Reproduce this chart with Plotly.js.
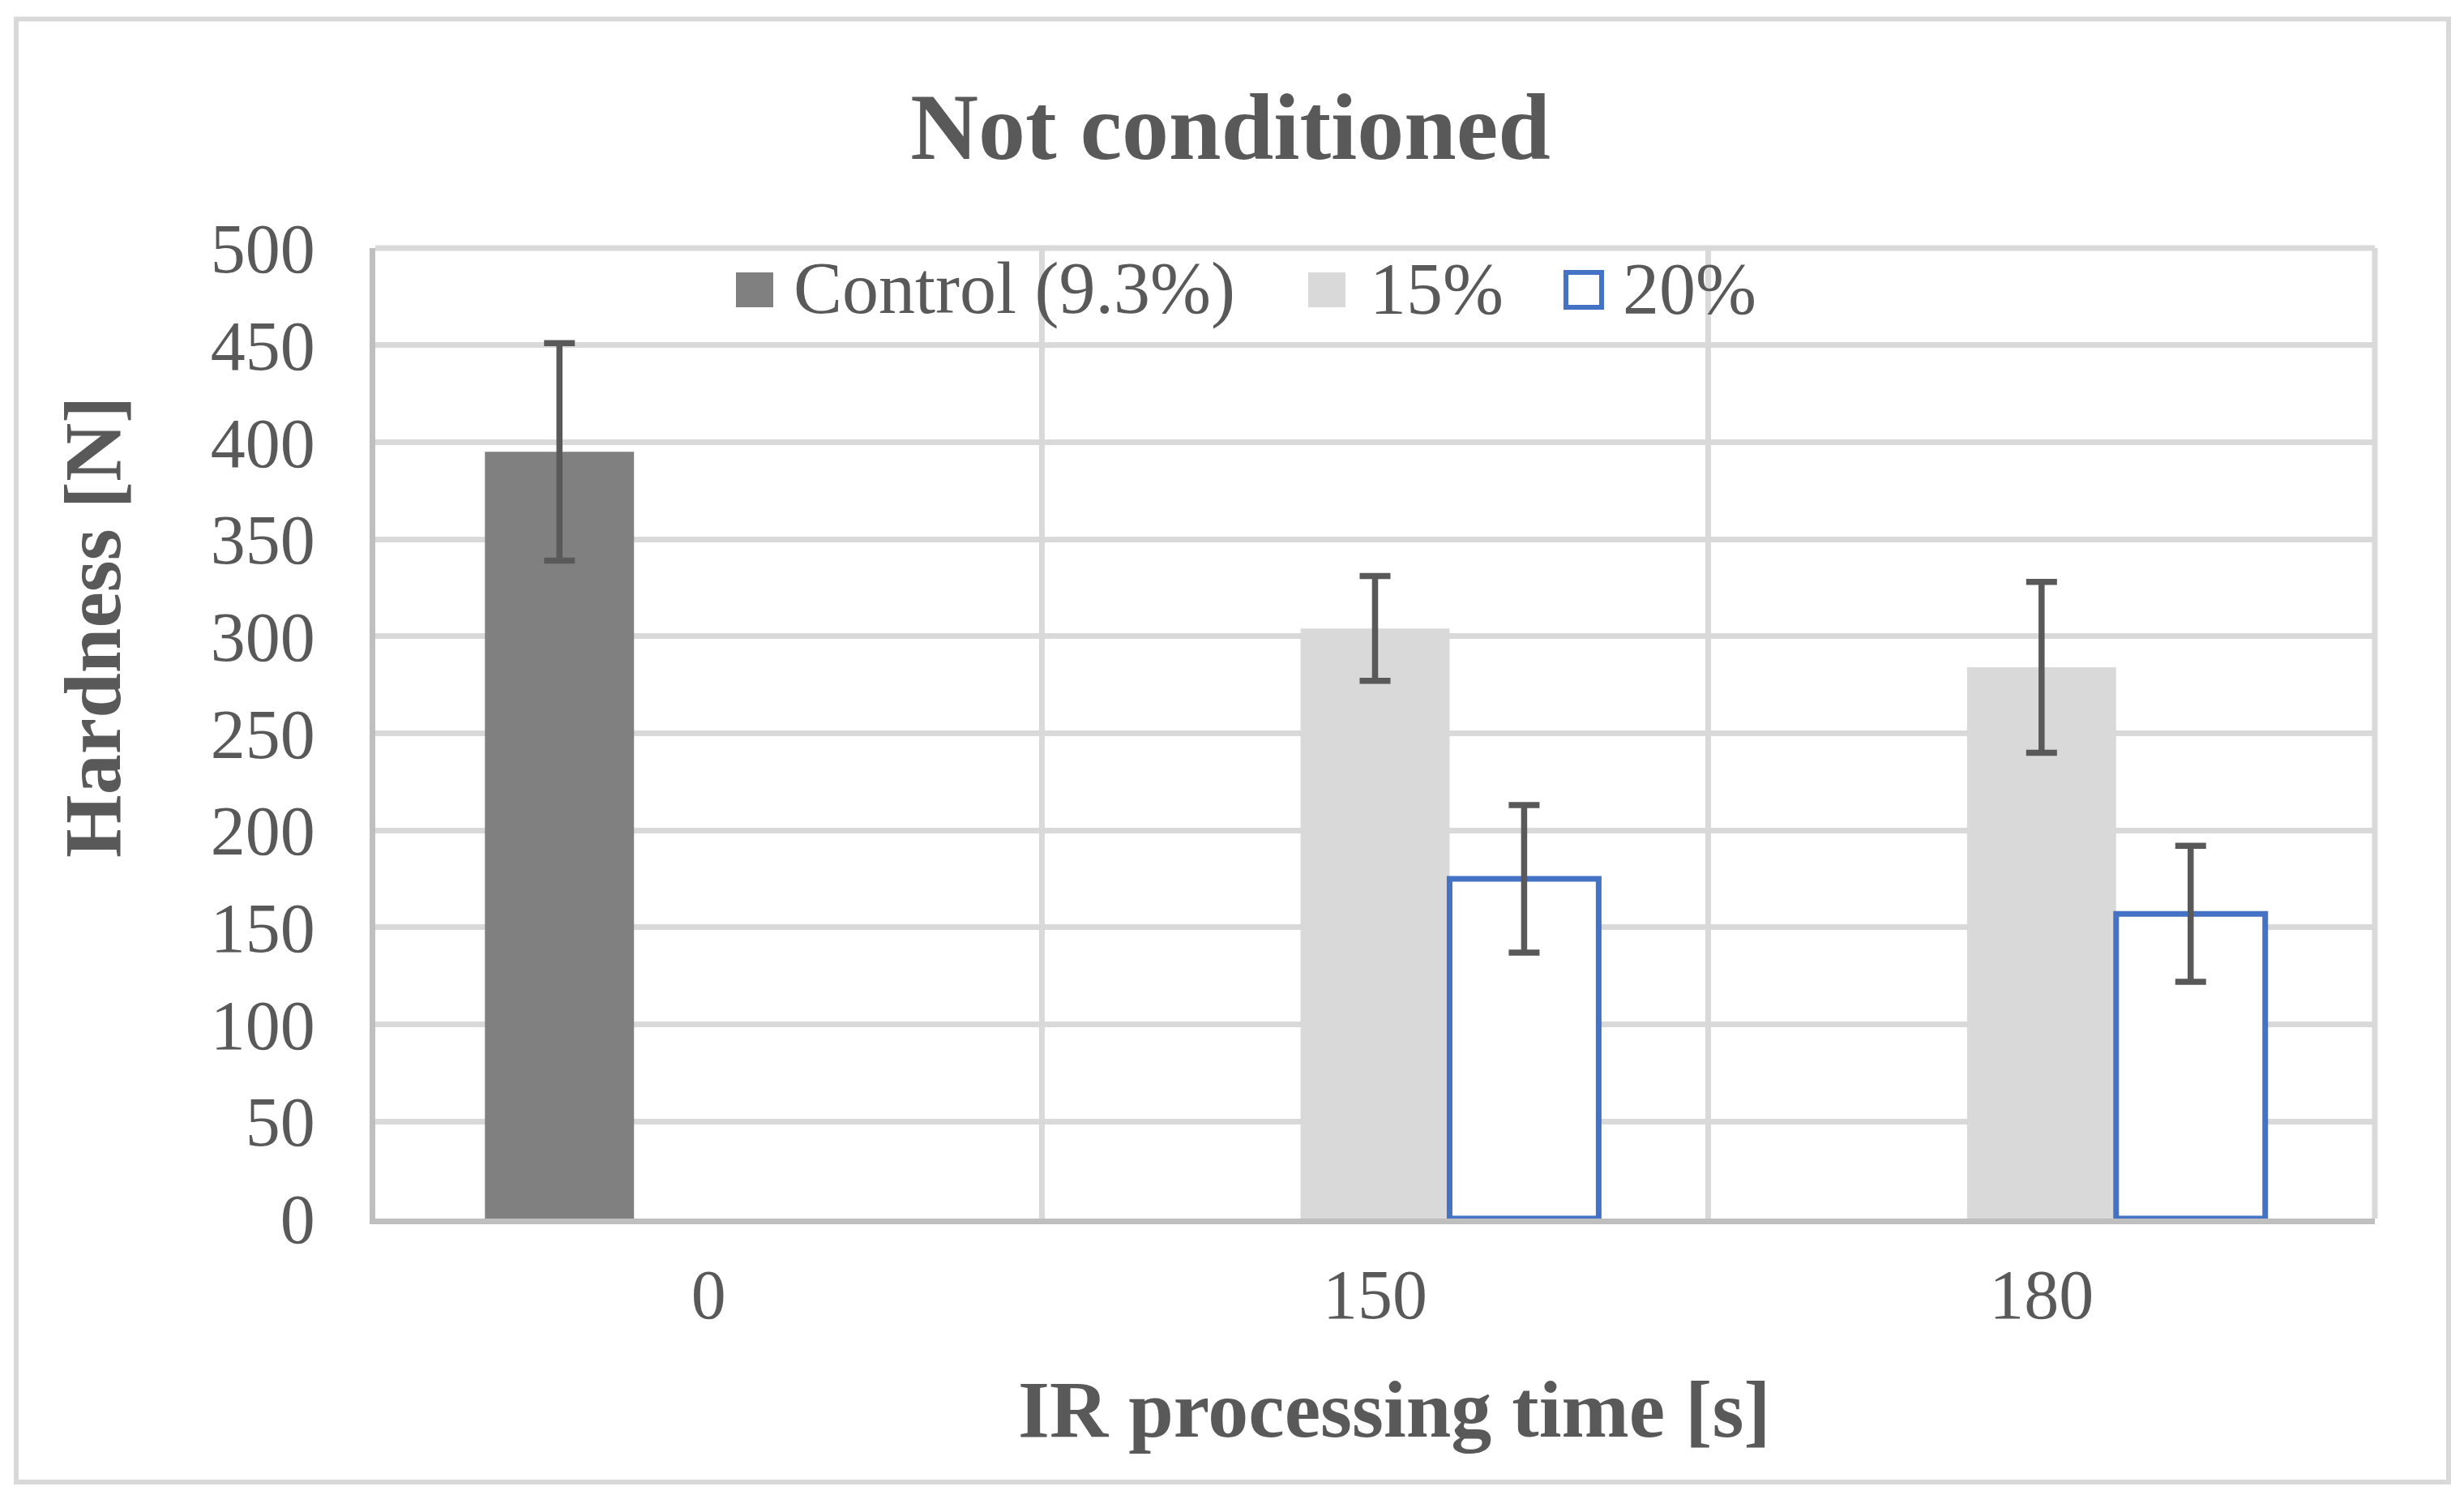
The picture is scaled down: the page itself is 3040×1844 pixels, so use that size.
<!DOCTYPE html>
<html>
<head>
<meta charset="utf-8">
<script src="https://cdn.plot.ly/plotly-3.0.1.min.js"></script>
<style>
  html, body { margin: 0; padding: 0; background: #ffffff; }
  #chart { width: 3040px; height: 1844px; }
</style>
</head>
<body>
<div id="chart"></div>
<script>
// ---- data ----
const categories = ['0', '150', '180'];
const seriesNames = ['Control (9.3%)', '15%', '20%'];
const controlValues = [395, null, null];
const controlErrors = [56, null, null];
const pct15Values = [null, 304, 284];
const pct15Errors = [null, 27, 44];
const pct20Values = [null, 175, 157];
const pct20Errors = [null, 38, 35];
const yTickValues = [0, 50, 100, 150, 200, 250, 300, 350, 400, 450, 500];
const chartTitle = 'Not conditioned';
const xTitle = 'IR processing time [s]';
const yTitle = 'Hardness [N]';

// ---- styling ----
const FONT = 'Liberation Serif, "Times New Roman", serif';
const TXT = '#595959';
const GRID = '#d9d9d9';
const W = 3040, H = 1844;
const M = { l: 463, r: 110, t: 306, b: 341 };
const PW = W - M.l - M.r, PH = H - M.t - M.b;
const xp = px => (px - M.l) / PW;
const yp = py => (H - M.b - py) / PH;

const seriesStyles = [
  { color: '#808080', line: { width: 0 } },
  { color: '#d9d9d9', line: { width: 0 } },
  { color: '#ffffff', line: { color: '#4472c4', width: 7 } }
];
const seriesValues = [controlValues, pct15Values, pct20Values];
const seriesErrors = [controlErrors, pct15Errors, pct20Errors];

const traces = seriesNames.map((name, i) => ({
  type: 'bar',
  name: name,
  x: categories,
  y: seriesValues[i],
  marker: seriesStyles[i],
  error_y: {
    type: 'data',
    array: seriesErrors[i],
    visible: true,
    color: '#595959',
    thickness: 7.5,
    width: 19
  },
  showlegend: false,
  hoverinfo: 'skip'
}));

// custom legend (large square swatches like the reference)
const legendSwatchX = [[908, 954], [1614, 1660], [1932, 1976]];
const legendTextX = [977, 1688, 2000];
const legendY = [336, 379];

const shapes = [
  // outer chart border
  {
    type: 'rect', xref: 'paper', yref: 'paper',
    x0: xp(20), x1: xp(3021), y0: yp(1828), y1: yp(23.5),
    line: { color: GRID, width: 6 }, fillcolor: 'rgba(0,0,0,0)', layer: 'below'
  },
  // gridlines on the plot-area edges (top at 500, right category boundary)
  {
    type: 'line', xref: 'paper', yref: 'paper',
    x0: 0, x1: 1, y0: 1, y1: 1,
    line: { color: GRID, width: 7 }, layer: 'between'
  },
  {
    type: 'line', xref: 'paper', yref: 'paper',
    x0: 1, x1: 1, y0: 0, y1: 1,
    line: { color: GRID, width: 7 }, layer: 'between'
  }
];
const annotations = [];
seriesNames.forEach((name, i) => {
  const st = seriesStyles[i];
  shapes.push({
    type: 'rect', xref: 'paper', yref: 'paper',
    x0: xp(legendSwatchX[i][0]), x1: xp(legendSwatchX[i][1]),
    y0: yp(legendY[1]), y1: yp(legendY[0]),
    fillcolor: st.color,
    line: st.line.width ? { color: st.line.color, width: 6 } : { width: 0 }
  });
  annotations.push({
    xref: 'paper', yref: 'paper',
    x: xp(legendTextX[i]), y: yp(356),
    xanchor: 'left', yanchor: 'middle',
    text: name, showarrow: false,
    font: { family: FONT, size: 90, color: TXT }
  });
});

annotations.push({
  xref: 'paper', yref: 'paper',
  x: xp(1720), y: yp(1738),
  xanchor: 'center', yanchor: 'middle',
  text: '<b>' + xTitle + '</b>', showarrow: false,
  font: { family: FONT, size: 100, color: TXT }
});
annotations.push({
  xref: 'paper', yref: 'paper',
  x: xp(114), y: yp(774),
  xanchor: 'center', yanchor: 'middle', textangle: -90,
  text: '<b>' + yTitle + '</b>', showarrow: false,
  font: { family: FONT, size: 100, color: TXT }
});

const layout = {
  width: W, height: H,
  margin: M,
  paper_bgcolor: '#ffffff',
  plot_bgcolor: '#ffffff',
  font: { family: FONT, color: TXT },
  title: {
    text: '<b>' + chartTitle + '</b>',
    font: { family: FONT, size: 116, color: TXT },
    xref: 'container', yref: 'container',
    x: 1518 / W, xanchor: 'center',
    y: 1 - 155 / H, yanchor: 'middle'
  },
  barmode: 'group',
  bargap: 0.329,
  bargroupgap: 0,
  showlegend: false,
  xaxis: {
    type: 'category',
    categoryorder: 'array',
    categoryarray: categories,
    tickson: 'boundaries',
    showgrid: true,
    gridcolor: GRID,
    gridwidth: 7,
    showline: true,
    linecolor: '#bfbfbf',
    linewidth: 7,
    ticks: '',
    ticklabelstandoff: 13,
    tickfont: { family: FONT, size: 86, color: TXT },
    zeroline: false,
    fixedrange: true
  },
  yaxis: {
    range: [0, 500],
    tickvals: yTickValues,
    ticktext: yTickValues.map(String),
    showgrid: true,
    gridcolor: GRID,
    gridwidth: 7,
    showline: true,
    linecolor: '#bfbfbf',
    linewidth: 7,
    ticks: '',
    ticklabelstandoff: 50,
    tickfont: { family: FONT, size: 86, color: TXT },
    zeroline: false,
    fixedrange: true
  },
  shapes: shapes,
  annotations: annotations
};

Plotly.newPlot('chart', traces, layout, { staticPlot: true, displayModeBar: false });
</script>
</body>
</html>
